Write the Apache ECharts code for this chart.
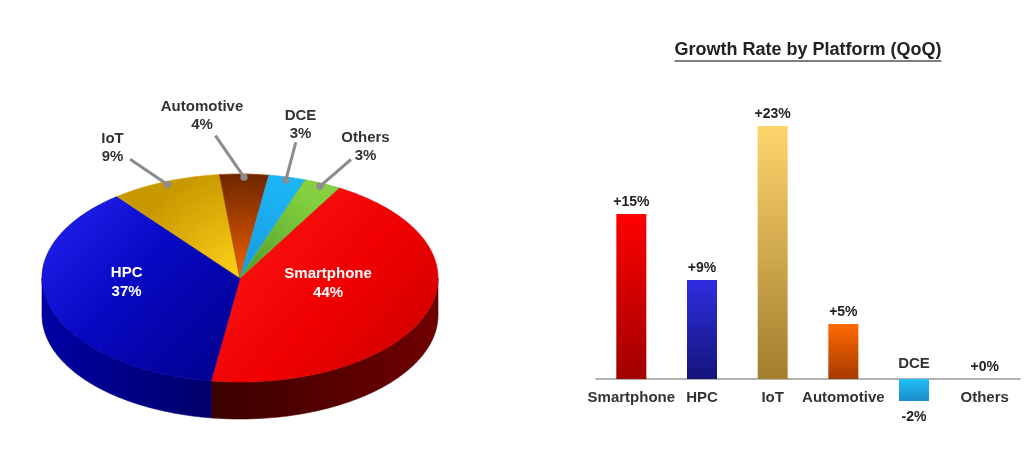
<!DOCTYPE html>
<html>
<head>
<meta charset="utf-8">
<script src="https://cdn.jsdelivr.net/npm/echarts@6/dist/echarts.min.js"></script>
<style>
  html, body { margin: 0; padding: 0; background: #fff; }
  #main { width: 1035px; height: 456px; }
</style>
</head>
<body>
<div id="main"></div>
<script>
// data
const platforms = ['Smartphone', 'HPC', 'IoT', 'Automotive', 'DCE', 'Others'];
const revenueShare = [44, 37, 9, 4, 3, 3];
const growthQoQ = [15, 9, 23, 5, -2, 0];
const chartTitle = 'Growth Rate by Platform (QoQ)';

const FONT = "'Liberation Sans', Arial, sans-serif";
const G = echarts.graphic;

// pie geometry (tilted ellipse)
const pie = {cx: 240, cy: 278, rx: 198, ry: 104, depth: 37, start: -60};
// labels: inside for the big slices, outside with a leader for the rest
const labelInside = [true, true, false, false, false, false];
const labelShift = [[-11, -13], [-12, -10], [-19, 9], [-44, -11], [-8, -7], [6, 6]];

const pieStyle = [
    {
        top: new G.LinearGradient(0, 0, 1, 1, [{offset: 0, color: '#ff1a1a'}, {offset: 0.55, color: '#f00000'}, {offset: 1, color: '#c80000'}]),
        edge: '#e00000',
        side: new G.LinearGradient(0, 0, 1, 0, [{offset: 0, color: '#3a0000'}, {offset: 1, color: '#700000'}]),
        sideEdge: '#4a0000'
    },
    {
        top: new G.LinearGradient(0, 0, 1, 1, [{offset: 0, color: '#2424f4'}, {offset: 0.45, color: '#0808c4'}, {offset: 1, color: '#00008a'}]),
        edge: '#0000b0',
        side: new G.LinearGradient(0, 0, 1, 0, [{offset: 0, color: '#0000a4'}, {offset: 1, color: '#00006c'}]),
        sideEdge: '#000080'
    },
    {
        top: new G.RadialGradient(pie.cx, pie.cy, 110, [{offset: 0, color: '#ffd21a'}, {offset: 1, color: '#c89800'}], true),
        edge: '#d8a800'
    },
    {
        top: new G.RadialGradient(pie.cx, pie.cy, 106, [{offset: 0, color: '#f26000'}, {offset: 1, color: '#6c2600'}], true),
        edge: '#9a3c00'
    },
    {
        top: new G.RadialGradient(pie.cx, pie.cy, 106, [{offset: 0, color: '#1a98e0'}, {offset: 1, color: '#1cb6f6'}], true),
        edge: '#1aa8ec'
    },
    {
        top: new G.RadialGradient(pie.cx, pie.cy, 106, [{offset: 0, color: '#4e9c28'}, {offset: 1, color: '#84d040'}], true),
        edge: '#6ab838'
    }
];

const barColors = [
    ['#ff0000', '#a00000'],
    ['#2e2ee2', '#14147a'],
    ['#ffd46c', '#a27e2e'],
    ['#ff6a00', '#a63a00'],
    ['#22bef6', '#1a8cc8'],
    ['#7ccc3c', '#4c9a28']
];

// slice angles from the shares
const total = revenueShare.reduce((a, b) => a + b, 0);
const slices = [];
let acc = pie.start;
revenueShare.forEach(v => {
    const span = v / total * 360;
    slices.push({t0: acc, t1: acc + span});
    acc += span;
});

function pt(t, k, dy) {
    const r = t * Math.PI / 180;
    return [pie.cx + pie.rx * k * Math.cos(r), pie.cy + pie.ry * k * Math.sin(r) + (dy || 0)];
}

function arc(t0, t1, dy) {
    const pts = [];
    const n = Math.max(2, Math.ceil(Math.abs(t1 - t0)));
    for (let j = 0; j <= n; j++) {
        pts.push(pt(t0 + (t1 - t0) * j / n, 1, dy));
    }
    return pts;
}

function renderSlice(params, api) {
    const i = params.dataIndex;
    const s = slices[i];
    const st = pieStyle[i];
    const children = [];
    const mid = (s.t0 + s.t1) / 2;

    // front wall
    [[0, 180], [360, 540]].forEach(([lo, hi]) => {
        const a = Math.max(s.t0, lo), b = Math.min(s.t1, hi);
        if (b > a && st.side) {
            const pts = arc(a, b, 0).concat(arc(a, b, pie.depth).reverse());
            children.push({type: 'polygon', shape: {points: pts}, style: {fill: st.side, stroke: st.sideEdge, lineWidth: 0.6}});
        }
    });

    // top face
    children.push({
        type: 'polygon',
        shape: {points: [[pie.cx, pie.cy]].concat(arc(s.t0, s.t1, 0))},
        style: {fill: st.top, stroke: st.edge, lineWidth: 0.6}
    });

    const text = platforms[i] + '\n' + api.value(0) + '%';
    const sh = labelShift[i];
    if (labelInside[i]) {
        const p = pt(mid, 0.53, 0);
        children.push({
            type: 'text', z2: 10,
            style: {text: text, x: p[0] + sh[0], y: p[1] + sh[1], align: 'center', verticalAlign: 'middle',
                font: 'bold 15px ' + FONT, fill: '#ffffff', lineHeight: 19}
        });
    } else {
        const dot = pt(mid, 0.97, 0);
        const lp = pt(mid, 1.45, 0);
        lp[0] += sh[0];
        lp[1] += sh[1];
        const end = [dot[0] + (lp[0] - dot[0]) * 0.68, dot[1] + (lp[1] - dot[1]) * 0.68];
        children.push({type: 'line', z2: 8, shape: {x1: dot[0], y1: dot[1], x2: end[0], y2: end[1]}, style: {stroke: '#8c8c8c', lineWidth: 3}});
        children.push({type: 'circle', z2: 9, shape: {cx: dot[0], cy: dot[1], r: 3.6}, style: {fill: '#8c8c8c'}});
        children.push({
            type: 'text', z2: 10,
            style: {text: text, x: lp[0], y: lp[1], align: 'center', verticalAlign: 'middle',
                font: 'bold 15px ' + FONT, fill: '#333333', lineHeight: 18}
        });
    }
    return {type: 'group', children: children};
}

// title with underline
const titleFont = 'bold 18px ' + FONT;
const ctx = document.createElement('canvas').getContext('2d');
ctx.font = titleFont;
const titleW = ctx.measureText(chartTitle).width;
const titleX = 808;

const myChart = echarts.init(document.getElementById('main'));

const option = {
    backgroundColor: '#ffffff',
    animation: false,
    // grid bottom sits on the zero line; the negative bar hangs below it
    grid: {left: 596, right: 15, top: 104, bottom: 77},
    xAxis: {
        type: 'category',
        data: platforms,
        axisLine: {lineStyle: {color: '#9a9a9a', width: 1.5}},
        axisTick: {show: false},
        axisLabel: {
            interval: 0,
            margin: 11,
            color: '#333',
            fontSize: 15,
            fontWeight: 'bold',
            fontFamily: FONT,
            formatter: (v, idx) => growthQoQ[idx] < 0 ? '' : v
        }
    },
    yAxis: {type: 'value', min: 0, max: 25, show: false},
    graphic: [
        {
            type: 'text', left: titleX - titleW / 2, top: 41,
            style: {text: chartTitle, font: titleFont, fill: '#222'}
        },
        {
            type: 'line',
            shape: {x1: titleX - titleW / 2, y1: 61, x2: titleX + titleW / 2, y2: 61},
            style: {stroke: '#555', lineWidth: 1.5}
        }
    ],
    series: [
        {
            type: 'bar',
            barWidth: 30,
            clip: false,
            data: growthQoQ.map((v, i) => ({
                value: v,
                itemStyle: {color: new G.LinearGradient(0, 0, 0, 1, [{offset: 0, color: barColors[i][0]}, {offset: 1, color: barColors[i][1]}])},
                label: {position: v < 0 ? 'bottom' : 'top', distance: v < 0 ? 9 : 5}
            })),
            label: {
                show: true,
                formatter: p => (p.value >= 0 ? '+' : '') + p.value + '%',
                fontSize: 14,
                fontWeight: 'bold',
                color: '#222',
                fontFamily: FONT
            }
        },
        {
            // category names for negative bars sit above the axis
            type: 'bar',
            barWidth: 30,
            barGap: '-100%',
            silent: true,
            data: growthQoQ.map(v => v < 0 ? 0 : '-'),
            itemStyle: {color: 'transparent'},
            label: {
                show: true,
                position: 'top',
                distance: 8,
                formatter: '{b}',
                fontSize: 15,
                fontWeight: 'bold',
                color: '#333',
                fontFamily: FONT
            }
        },
        {
            type: 'custom',
            coordinateSystem: 'none',
            renderItem: renderSlice,
            data: revenueShare.map(v => [v])
        }
    ]
};

option && myChart.setOption(option);
</script>
</body>
</html>
